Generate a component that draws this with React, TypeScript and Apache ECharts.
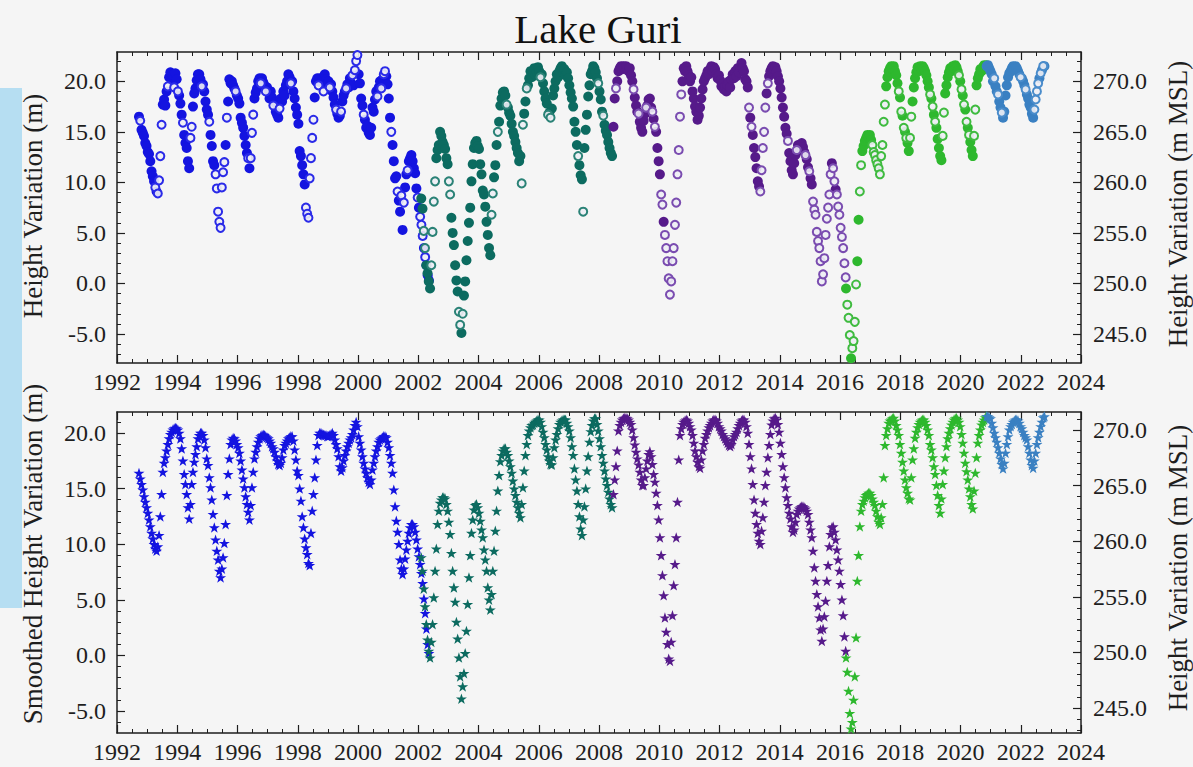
import React, { useEffect, useRef } from 'react';
import * as echarts from 'echarts';

// ---------------- DATA ----------------
// Time step between consecutive readings (years)
const STEP = 1 / 24;

const TITLE = 'Lake Guri';
const TOP_LEFT_NAME = 'Height Variation (m)';
const TOP_RIGHT_NAME = 'Height Variation (m MSL)';
const BOT_LEFT_NAME = 'Smoothed Height Variation (m)';
const BOT_RIGHT_NAME = 'Height Variation (m MSL)';

const leftTicks = [-5, 0, 5, 10, 15, 20];
const rightTicks = [245, 250, 255, 260, 265, 270];

// Start times of each mission's record
const t0Blue = 1992.73;
const t0Teal = 2002.10;
const t0Purple = 2008.48;
const t0Green = 2016.20;
const t0Steel = 2020.87;

// Raw heights (top panel)
const rawBlue = [
  16.5,16.1,15.2,14.9,14.6,13.9,13.6,13.0,12.8,12.1,
  11.1,10.6,10.1,9.5,9.1,8.9,10.2,12.6,15.7,17.7,
  18.2,17.6,19.0,19.5,20.4,20.9,20.1,20.6,19.4,20.8,
  20.2,19.0,18.6,17.8,16.7,15.9,14.7,13.9,13.4,12.1,
  11.4,14.4,15.5,17.5,18.8,19.3,20.1,20.7,20.7,20.2,
  19.5,19.7,19.0,18.0,17.2,16.7,16.0,14.7,13.6,12.1,
  11.7,10.8,9.4,7.1,6.1,5.5,9.5,11.0,12.0,13.7,
  16.4,18.0,20.2,19.8,20.0,19.6,19.3,19.0,18.6,18.3,
  17.8,16.4,15.9,15.4,14.6,13.7,12.9,12.4,11.4,12.4,
  14.9,16.7,18.3,18.9,19.3,20.0,20.3,19.8,20.3,19.9,
  19.6,19.0,19.4,18.9,18.3,19.0,18.4,17.6,17.9,17.0,
  16.7,16.4,17.3,18.3,18.0,19.0,18.6,19.6,20.0,20.7,
  20.4,19.8,20.0,19.0,18.3,17.4,16.7,15.8,13.1,12.6,
  11.7,10.8,9.8,7.5,6.9,6.5,10.4,12.4,14.4,16.2,
  18.4,20.0,20.3,19.6,20.3,19.9,20.1,19.0,20.7,20.2,
  19.7,20.0,19.4,19.7,19.0,18.4,17.7,17.2,16.8,16.4,
  16.6,17.0,18.0,18.6,19.0,19.3,19.7,19.4,20.3,19.8,
  20.6,19.6,21.1,22.0,22.6,20.7,19.8,18.3,17.6,16.7,
  16.2,15.4,15.6,14.9,14.7,15.4,17.4,17.0,18.2,19.0,
  18.5,19.4,20.0,19.3,20.2,20.7,21.0,20.5,19.7,18.3,
  16.4,15.0,13.7,12.1,10.4,10.6,9.1,8.2,7.1,8.7,
  5.3,8.0,9.5,10.8,11.2,12.1,12.4,12.7,12.1,11.4,
  10.9,9.4,8.5,7.5,6.6,5.8,4.7,3.5,2.6,1.8,
  0.8,0.3,
];
const rawTeal = [
  8.4,7.4,5.2,3.5,1.8,1.0,0.2,-0.5,1.8,5.1,
  8.1,10.1,12.4,13.2,13.7,15.0,14.6,14.0,13.7,13.3,
  12.4,11.8,10.1,8.8,6.5,5.0,3.8,1.8,0.3,-0.8,
  -2.8,-4.1,-4.9,-3.0,-1.2,0.2,2.3,4.2,6.0,7.5,
  10.1,11.8,13.4,13.9,14.1,13.6,13.3,11.8,10.8,9.2,
  8.8,7.6,6.1,4.8,3.5,2.8,6.8,8.9,10.5,11.7,
  13.7,15.0,16.0,17.6,18.3,18.9,19.0,18.6,17.7,17.4,
  16.9,16.6,15.8,15.0,14.6,14.0,13.4,12.9,12.1,12.6,
  9.9,15.7,16.8,18.0,19.3,19.6,20.3,21.0,20.4,20.9,
  21.3,20.6,20.9,21.4,21.0,20.4,20.7,19.8,19.0,18.3,
  17.8,16.7,16.9,16.4,17.3,18.6,19.3,20.0,20.7,20.4,
  21.0,21.3,21.5,20.9,21.2,20.6,20.9,20.3,19.6,18.9,
  18.3,17.5,16.0,15.0,13.7,12.6,11.7,10.7,10.3,7.1,
  13.4,15.2,16.7,18.5,19.6,20.7,21.0,21.5,21.3,20.9,
  20.3,19.8,19.0,18.2,17.0,16.6,15.7,15.1,14.7,14.0,
  13.4,12.9,12.6,
];
const rawPurple = [
  15.5,18.3,19.3,20.0,21.0,21.3,21.5,21.2,21.5,21.3,
  21.5,21.2,21.0,21.3,20.6,20.0,19.2,18.4,17.6,17.0,
  16.8,16.0,15.4,15.0,16.1,16.8,17.4,17.6,18.2,18.3,
  17.4,17.0,16.3,15.5,15.0,13.4,12.1,10.8,8.8,7.8,
  6.1,4.8,3.5,2.2,0.5,-1.1,0.2,2.2,3.5,5.8,
  8.0,10.8,13.2,16.5,18.7,20.0,21.3,21.0,21.5,21.0,
  20.6,20.0,20.4,19.0,18.3,17.5,17.0,16.2,16.6,17.4,
  18.3,19.2,20.0,20.3,20.6,21.0,20.7,21.2,21.5,21.0,
  21.4,21.2,20.7,20.3,20.6,20.1,19.5,19.8,19.2,19.5,
  19.0,19.6,20.0,19.4,20.2,20.7,20.3,21.0,20.5,21.3,
  20.9,21.4,21.8,21.3,21.0,20.2,20.0,19.4,17.4,16.4,
  15.5,14.7,13.4,12.5,11.4,10.1,9.6,9.1,11.2,13.4,
  15.0,17.4,18.8,19.8,20.5,21.0,21.3,21.5,21.2,21.4,
  21.0,20.5,20.0,19.3,18.4,17.4,16.5,15.4,14.8,14.1,
  12.9,12.1,11.2,10.8,11.9,12.7,13.2,13.7,13.4,13.7,
  13.9,13.5,13.0,12.7,12.3,11.5,11.1,10.4,9.8,8.1,
  7.3,6.8,5.1,4.2,3.5,2.2,0.2,0.9,2.5,4.8,
  6.4,7.5,8.8,10.8,11.9,11.4,10.1,9.3,8.8,7.6,
  6.8,5.5,4.6,3.5,2.0,0.6,
];
const rawGreen = [
  -0.5,-2.1,-3.4,-5.1,-7.4,-6.4,-5.7,-3.8,-0.1,2.2,
  6.3,9.1,11.7,13.1,13.6,14.1,14.4,14.7,14.5,14.7,
  14.2,13.7,13.0,12.7,12.2,11.8,11.4,10.8,12.6,13.7,
  16.0,17.7,19.5,20.4,21.0,21.3,21.5,21.2,21.5,21.0,
  20.6,19.8,19.0,18.4,17.0,16.6,15.4,15.0,14.4,13.9,
  13.1,14.4,16.5,18.0,19.4,20.3,20.9,21.4,21.0,21.5,
  21.2,21.5,21.3,21.0,20.6,20.0,19.4,18.7,18.3,17.5,
  16.7,16.0,15.4,14.3,13.4,12.6,12.2,14.6,16.9,18.8,
  19.6,20.4,20.9,21.3,21.0,21.5,21.3,21.6,21.4,21.0,
  20.6,20.0,19.2,18.6,17.7,17.2,16.0,15.4,14.7,14.0,
  13.2,12.6,14.6,17.2,19.6,20.3,20.7,21.2,21.0,21.4,
  21.6,21.3,21.6,
];
const rawSteel = [
  21.5,21.6,21.3,21.0,20.7,20.0,20.3,19.5,19.0,18.7,
  18.0,17.4,16.9,16.4,17.0,18.6,19.6,20.4,20.8,21.0,
  21.3,21.5,21.2,21.5,21.3,21.0,20.7,20.4,20.3,20.0,
  19.6,19.2,18.7,18.3,17.7,17.4,16.8,16.4,17.2,18.2,
  19.0,19.8,20.3,20.8,21.1,21.5,21.5,
];

// Which raw readings are drawn as open rings (o) or filled dots (f)
const blueMask = 'foffffffff fffofoooof fffoffffof fofffoffff foofffffff offfffofff foooooooof offffffoff fffffffofo oofffffoff fofffffoff ffofffffff foffffffff fffooooooo fffofffoff ffoffffoff fofffoffff ofoooffffo ffffffffff offofoofff foffffoffo foffofffff ffofooofof ff';
const tealMask = 'ffooffffoo ooffffffff ffooffffff oofoffffff ffffffffff ffffffooff foffffffof ffffffffff ooffofffff fffffoffff fofoffffff ffffffffff fffffofffo ffffffffff fofffoffff fff';
const purpleMask = 'ffofffffff ffffffofff offfffofff fofoffffoo fooooooooo ooooofffff ffffffffff ffffffffff ffffffffff ffffffffff ffffffffof offffffooo oofoffffff fffffffffo ffffffofff fffoffoffo oooooooooo oooofoofoo oooooo';
const greenMask = 'fooofoooof foofffffff fooooooooo ooffffffff ffofofofof foofffffff fffffffofo fofffffoof ffffffffff ofofofofof ffooffffff fff';
const steelMask = 'ffffffoffo ffofffffff fffffffoff foffffffoo oofofof';

// Smoothed heights (bottom panel)
const smBlue = [
  16.4,15.9,15.4,14.9,14.3,13.8,13.3,12.8,12.2,11.6,
  11.0,10.5,10.0,9.6,9.4,9.8,10.8,12.5,14.5,16.5,
  17.3,17.8,18.4,19.0,19.5,19.9,20.1,20.3,20.4,20.45,
  20.4,20.3,20.0,19.5,18.6,17.5,16.3,15.4,14.5,13.3,
  12.3,13.6,15.4,16.5,17.4,18.1,18.8,19.5,19.8,20.0,
  20.0,19.8,19.4,18.7,17.7,17.1,16.0,15.1,14.0,12.7,
  11.5,10.4,9.4,8.6,7.6,7.0,7.8,8.8,10.1,11.8,
  14.4,16.3,17.7,19.0,19.4,19.55,19.5,19.3,19.0,18.7,
  18.2,17.5,16.7,15.9,15.1,14.3,13.6,12.9,12.2,13.5,
  15.1,16.5,17.7,18.3,18.8,19.2,19.5,19.7,19.8,19.85,
  19.8,19.7,19.6,19.5,19.3,19.1,18.8,18.6,18.3,17.9,
  17.5,17.2,17.1,17.3,17.8,18.5,18.9,19.1,19.3,19.5,
  19.6,19.7,19.7,19.3,18.5,17.6,16.6,16.2,15.0,13.9,
  12.5,11.5,10.5,9.7,9.1,8.3,8.1,11.0,13.0,14.5,
  16.0,17.6,18.9,19.8,20.0,20.0,19.9,19.85,19.8,19.8,
  19.7,19.7,19.8,19.9,20.0,19.8,19.4,19.0,18.6,17.9,
  17.0,16.6,16.9,17.5,18.0,18.4,18.8,19.1,19.4,19.6,
  19.9,20.3,20.7,21.0,20.6,19.7,19.1,18.5,17.9,17.3,
  16.8,16.4,16.0,15.6,15.4,15.8,16.7,17.3,17.9,18.4,
  18.8,19.2,19.4,19.5,19.6,19.7,19.7,19.6,19.2,18.7,
  18.0,17.3,16.4,14.9,13.4,12.1,11.1,10.0,8.6,7.8,
  7.3,7.8,8.7,9.5,10.3,11.0,11.5,11.8,11.8,11.6,
  11.1,10.4,9.6,8.9,8.2,7.4,6.5,5.1,3.8,2.4,
  1.0,0.2,
];
const smTeal = [
  8.8,7.6,6.0,4.4,2.8,1.4,0.4,-0.2,1.2,2.8,
  5.2,7.6,9.6,11.8,13.0,13.7,14.0,14.2,14.2,14.1,
  13.6,13.0,12.0,10.9,9.2,7.6,6.1,4.8,3.0,1.5,
  -0.2,-1.9,-3.9,-2.8,-1.6,0.2,2.2,4.6,7.0,9.0,
  11.0,12.2,13.1,13.5,13.6,13.3,12.8,12.1,11.3,10.6,
  9.5,8.6,7.6,6.1,5.0,4.1,5.5,7.6,9.4,11.2,
  13.0,14.8,16.2,17.45,18.0,18.4,18.6,18.6,18.3,18.0,
  17.5,17.0,16.4,15.7,15.0,14.4,13.8,13.3,12.8,12.4,
  13.6,15.1,16.6,18.0,19.0,19.8,20.2,20.5,20.7,20.75,
  20.9,21.0,21.1,21.2,21.2,21.0,20.6,20.1,19.6,19.0,
  18.5,17.9,17.5,17.2,17.15,17.8,18.7,19.4,19.9,20.4,
  20.8,21.0,21.1,21.2,21.2,21.2,20.9,20.6,20.2,19.6,
  18.8,18.0,16.8,15.8,14.8,13.6,12.5,11.4,10.8,12.2,
  13.4,15.0,16.6,17.9,19.2,20.15,20.7,21.1,21.3,21.3,
  20.8,20.2,19.5,18.8,18.0,17.3,16.6,15.9,15.3,14.7,
  14.1,13.6,13.3,
];
const smPurple = [
  14.5,15.8,17.0,18.4,20.2,20.7,21.0,21.2,21.3,21.35,
  21.35,21.3,21.2,21.0,20.8,20.3,19.6,18.95,18.3,17.7,
  17.15,16.5,15.8,15.3,15.3,16.0,16.8,17.5,18.1,18.35,
  17.9,17.2,16.3,15.6,14.6,13.5,12.2,10.6,9.0,7.2,
  5.4,3.4,2.1,1.0,-0.3,-0.5,1.2,3.6,6.3,8.2,
  10.6,13.8,17.6,19.8,20.4,20.8,21.0,21.1,21.2,21.1,
  20.9,20.6,20.3,19.8,19.1,18.4,17.9,17.4,17.0,16.85,
  17.6,18.4,19.0,19.55,19.9,20.2,20.5,20.7,20.9,21.1,
  21.2,21.2,21.1,20.9,20.6,20.4,20.2,19.9,19.7,19.5,
  19.3,19.1,18.9,18.8,19.0,19.4,19.7,19.9,20.1,20.4,
  20.7,20.9,21.1,21.2,21.2,21.0,20.6,20.0,19.0,17.9,
  16.8,15.4,14.0,12.8,11.8,11.0,10.3,10.0,11.2,12.4,
  13.8,15.3,16.5,17.8,18.9,19.9,20.75,21.1,21.3,21.35,
  21.2,20.8,20.1,19.1,18.1,17.0,16.0,15.1,14.2,13.5,
  12.8,12.3,11.6,11.1,11.3,12.0,12.7,13.0,13.2,13.3,
  13.4,13.4,13.3,13.2,13.0,12.7,12.0,11.3,10.6,9.4,
  7.9,6.7,5.5,4.4,3.4,2.3,1.3,2.4,3.5,4.9,
  6.7,8.1,9.8,10.9,11.5,11.6,11.1,10.4,9.5,8.6,
  7.6,6.4,5.0,3.6,1.7,0.4,
];
const smGreen = [
  -0.2,-1.5,-3.2,-5.2,-6.6,-6.0,-4.0,-1.9,1.6,6.7,
  9.0,11.6,13.0,13.6,13.9,14.2,14.4,14.5,14.6,14.6,
  14.4,14.1,13.8,13.5,13.0,12.5,12.0,11.8,12.4,13.6,
  16.0,18.9,19.8,20.4,20.9,21.1,21.2,21.3,21.35,21.1,
  20.7,20.3,19.8,19.0,18.2,17.4,16.6,15.8,15.1,14.6,
  14.1,14.0,16.0,17.6,18.6,19.55,20.1,20.5,20.8,21.0,
  21.1,21.2,21.2,21.0,20.7,20.3,19.8,19.0,18.5,17.8,
  17.0,16.3,15.3,14.4,13.5,12.8,14.1,15.4,16.6,17.8,
  18.8,19.5,20.0,20.4,20.75,21.0,21.2,21.3,21.35,21.2,
  21.0,20.6,19.9,19.1,18.2,17.3,16.55,15.8,15.0,14.3,
  13.6,13.2,14.8,16.4,17.8,19.1,19.8,20.3,20.75,21.0,
  21.2,21.4,21.5,
];
const smSteel = [
  21.5,21.5,21.4,21.3,20.9,20.5,20.0,19.6,19.2,18.7,
  18.2,17.7,17.2,16.8,17.3,18.2,19.0,19.7,20.3,20.6,
  20.8,21.0,21.1,21.2,21.2,21.1,20.9,20.6,20.4,20.1,
  19.8,19.6,19.4,18.8,18.2,17.6,17.1,16.85,17.5,18.2,
  19.0,19.6,20.1,20.6,21.0,21.4,21.5,
];

// ---------------- STYLE ----------------
const FONT = 'Liberation Serif';
const INK = '#1e1e1e';
const BG = '#f5f5f5';

const SATS = [
  { color: '#1414e0', ring: '#2a2ae8', t0: t0Blue, raw: rawBlue, mask: blueMask, sm: smBlue },
  { color: '#0c6b60', ring: '#2a8276', t0: t0Teal, raw: rawTeal, mask: tealMask, sm: smTeal },
  { color: '#561a8a', ring: '#7a4cb0', t0: t0Purple, raw: rawPurple, mask: purpleMask, sm: smPurple },
  { color: '#2eb82e', ring: '#3fbb3f', t0: t0Green, raw: rawGreen, mask: greenMask, sm: smGreen },
  { color: '#3a80c2', ring: '#4a8ccb', t0: t0Steel, raw: rawSteel, mask: steelMask, sm: smSteel },
];

const STAR = 'path://M50,0 L61.8,35.1 L98.1,35.1 L68.8,56.7 L79.4,91.2 L50,70 L20.6,91.2 L31.2,56.7 L1.9,35.1 L38.2,35.1 Z';

function range(a: number, b: number) {
  const out: number[] = [];
  for (let v = a; v <= b; v++) out.push(v);
  return out;
}

function buildOption() {
  const grids = [
    { left: 117, top: 52, width: 964, height: 311 },
    { left: 117, top: 412, width: 964, height: 321 },
  ];
  const yRanges = [
    { min: -7.87, max: 22.9, rmin: 242.13, rmax: 272.9 },
    { min: -6.98, max: 21.89, rmin: 242.75, rmax: 271.62 },
  ];

  const axisLine = { show: true, onZero: false, lineStyle: { color: INK, width: 1.5 } };
  const tickText = { fontFamily: FONT, fontSize: 24, color: INK, fontWeight: 'normal' };
  const label = {
    ...tickText,
    rich: { s: { ...tickText } },
  };

  const xAxis: any[] = [];
  const yAxis: any[] = [];
  grids.forEach((_, g) => {
    const base = {
      type: 'value', gridIndex: g, min: 1992, max: 2024, interval: 2,
      axisLine, splitLine: { show: false },
      axisTick: { show: true, inside: true, length: 8, lineStyle: { color: INK, width: 1.2 } },
      minorTick: { show: true, splitNumber: 4, length: 4, lineStyle: { color: INK, width: 1 } },
    };
    xAxis.push({ ...base, position: 'bottom', axisLabel: { ...label, margin: 7, formatter: (v: number) => `{s|${v}}` } });
    xAxis.push({ ...base, position: 'top', axisLabel: { show: false } });

    const r = yRanges[g];
    const minorL = range(Math.ceil(r.min), Math.floor(r.max));
    const minorR = range(Math.ceil(r.rmin), Math.floor(r.rmax));
    yAxis.push({
      type: 'value', gridIndex: g, position: 'left', min: r.min, max: r.max,
      axisLine, splitLine: { show: false },
      axisTick: { show: true, inside: true, length: 8, customValues: leftTicks, lineStyle: { color: INK, width: 1.2 } },
      axisLabel: { ...label, margin: 11, customValues: leftTicks, formatter: (v: number) => `{s|${v.toFixed(1)}}` },
    });
    yAxis.push({
      type: 'value', gridIndex: g, position: 'left', min: r.min, max: r.max,
      axisLine: { show: false, onZero: false }, splitLine: { show: false }, axisLabel: { show: false },
      axisTick: { show: true, inside: true, length: 4, customValues: minorL, lineStyle: { color: INK, width: 1 } },
    });
    yAxis.push({
      type: 'value', gridIndex: g, position: 'right', min: r.rmin, max: r.rmax,
      axisLine, splitLine: { show: false },
      axisTick: { show: true, inside: true, length: 8, customValues: rightTicks, lineStyle: { color: INK, width: 1.2 } },
      axisLabel: { ...label, margin: 12, customValues: rightTicks, formatter: (v: number) => `{s|${v.toFixed(1)}}` },
    });
    yAxis.push({
      type: 'value', gridIndex: g, position: 'right', min: r.rmin, max: r.rmax,
      axisLine: { show: false, onZero: false }, splitLine: { show: false }, axisLabel: { show: false },
      axisTick: { show: true, inside: true, length: 4, customValues: minorR, lineStyle: { color: INK, width: 1 } },
    });
  });

  const series: any[] = [];
  SATS.forEach((s) => {
    const m = s.mask.replace(/\s+/g, '');
    const filled: number[][] = [];
    const open: number[][] = [];
    s.raw.forEach((v, i) => {
      const p = [s.t0 + i * STEP, v];
      (m[i] === 'o' ? open : filled).push(p);
    });
    series.push({
      type: 'scatter', xAxisIndex: 0, yAxisIndex: 0, data: filled,
      symbol: 'circle', symbolSize: 10, itemStyle: { color: s.color, opacity: 1 }, silent: true,
    });
    series.push({
      type: 'scatter', xAxisIndex: 0, yAxisIndex: 0, data: open,
      symbol: 'circle', symbolSize: 8,
      itemStyle: { color: 'rgba(238,238,245,0.9)', borderColor: s.ring, borderWidth: 2, opacity: 1 }, silent: true,
    });
    series.push({
      type: 'scatter', xAxisIndex: 2, yAxisIndex: 4,
      data: s.sm.map((v, i) => [s.t0 + i * STEP, v]),
      symbol: STAR, symbolSize: [11, 10.5], itemStyle: { color: s.color, opacity: 1 }, silent: true,
    });
  });

  const nameStyle = (text: string, x: number, y: number) => ({
    type: 'text', x, y, rotation: Math.PI / 2, silent: true,
    style: {
      text, fill: INK, fontFamily: FONT, fontSize: 27,
      align: 'center', verticalAlign: 'middle', textAlign: 'center', textVerticalAlign: 'middle',
    },
  });

  return {
    animation: false,
    backgroundColor: BG,
    textStyle: { fontFamily: FONT },
    grid: grids,
    xAxis,
    yAxis,
    series,
    graphic: [
      { type: 'rect', shape: { x: 0, y: 88, width: 22, height: 520 }, style: { fill: '#b6def2' }, silent: true, z: -1 },
      {
        type: 'text', x: 598, y: 29, silent: true,
        style: {
          text: TITLE, fill: '#111', fontFamily: FONT, fontSize: 41,
          align: 'center', verticalAlign: 'middle', textAlign: 'center', textVerticalAlign: 'middle',
        },
      },
      nameStyle(TOP_LEFT_NAME, 33, 206),
      nameStyle(TOP_RIGHT_NAME, 1178, 204),
      nameStyle(BOT_LEFT_NAME, 33, 554),
      nameStyle(BOT_RIGHT_NAME, 1178, 568),
    ],
  };
}

export default function App() {
  const ref = useRef<HTMLDivElement>(null);
  useEffect(() => {
    if (!ref.current) return;
    const chart = echarts.init(ref.current, undefined, { renderer: 'svg' });
    chart.setOption(buildOption() as any);
    return () => chart.dispose();
  }, []);
  return (
    <div
      ref={ref}
      style={{ position: 'fixed', left: 0, top: 0, width: 1193, height: 767, background: BG }}
    />
  );
}
